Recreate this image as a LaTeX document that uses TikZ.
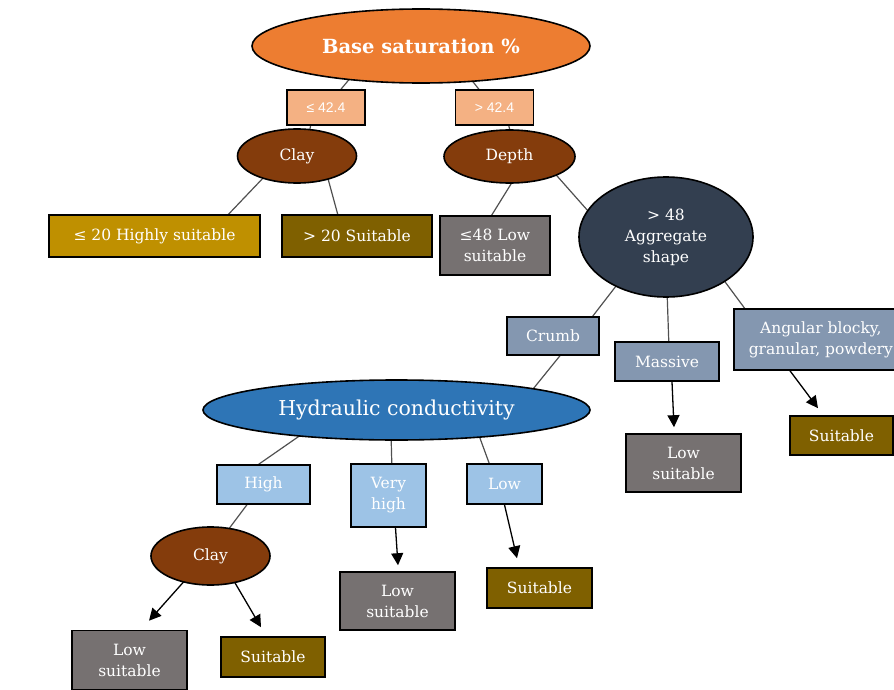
\documentclass[tikz,border=0pt]{standalone}
\usepackage{fontspec}
\setmainfont{DejaVu Serif}
\newfontfamily\labsans{Liberation Sans}
\usetikzlibrary{shapes.geometric,arrows.meta,calc,backgrounds}
\definecolor{cOrange}{HTML}{ED7D31}
\definecolor{cPeach}{HTML}{F4B183}
\definecolor{cBrown}{HTML}{843C0C}
\definecolor{cGold}{HTML}{BF9000}
\definecolor{cDGold}{HTML}{7F6000}
\definecolor{cGray}{HTML}{767171}
\definecolor{cNavy}{HTML}{333F50}
\definecolor{cSteel}{HTML}{8497B0}
\definecolor{cBlue}{HTML}{2E75B6}
\definecolor{cLBlue}{HTML}{9DC3E6}
\definecolor{cLine}{HTML}{505050}
\tikzset{
  boxst/.style={rectangle, draw=black, line width=1.6pt, text=white, align=center, inner sep=0pt,
    font=\fontsize{15.5}{21}\selectfont},
  ellst/.style={ellipse, draw=black, line width=1.6pt, text=white, align=center, inner sep=0pt,
    font=\fontsize{15.5}{21}\selectfont},
  labst/.style={rectangle, draw=black, line width=1.6pt, fill=cPeach, text=white, inner sep=0pt,
    minimum width=78pt, minimum height=35pt, font=\labsans\fontsize{14}{16}\selectfont},
  conn/.style={draw=cLine, line width=1.2pt},
  arr/.style={draw=black, line width=1.3pt, -{Triangle[width=12pt,length=12pt]}}
}
\begin{document}
\begin{tikzpicture}[x=1pt,y=-1pt]
\useasboundingbox (0,0) rectangle (894,690);
% top level
\node[ellst, fill=cOrange, minimum width=338pt, minimum height=74pt,
      font=\bfseries\fontsize{19.5}{22}\selectfont] (base) at (421,46) {Base saturation \%};
\node[labst] (le) at (326,107.5) {≤ 42.4};
\node[labst] (gt) at (494.5,107.5) {> 42.4};
\node[ellst, fill=cBrown, minimum width=119pt, minimum height=54pt] (clay1) at (297,156) {Clay};
\node[ellst, fill=cBrown, minimum width=131pt, minimum height=53pt] (depth) at (509.5,156.5) {Depth};
\node[boxst, fill=cGold, minimum width=211pt, minimum height=42pt] (hs) at (154.5,236) {≤ 20 Highly suitable};
\node[boxst, fill=cDGold, minimum width=150pt, minimum height=42pt] (s20) at (357,236) {> 20 Suitable};
\node[boxst, fill=cGray, minimum width=110pt, minimum height=59pt] (lt48) at (495,245.5) {≤48 Low\\suitable};
\node[ellst, fill=cNavy, minimum width=174pt, minimum height=120pt] (agg) at (666,237) {> 48\\Aggregate\\shape};
% aggregate shape level
\node[boxst, fill=cSteel, minimum width=92pt, minimum height=38pt] (crumb) at (553,336) {Crumb};
\node[boxst, fill=cSteel, minimum width=104pt, minimum height=39pt] (massive) at (667,361.5) {Massive};
\node[boxst, fill=cSteel, anchor=west, inner xsep=15pt, minimum height=61pt] (angular) at (733,339.5) {Angular blocky,\\granular, powdery};
\node[boxst, fill=cGray, minimum width=115pt, minimum height=58pt] (ls3) at (683.5,463) {Low\\suitable};
\node[boxst, fill=cDGold, minimum width=103pt, minimum height=39pt] (suit3) at (841.5,435.5) {Suitable};
% hydraulic conductivity level
\node[ellst, fill=cBlue, minimum width=387pt, minimum height=60pt,
      font=\fontsize{20.5}{24}\selectfont] (hydro) at (396.5,410) {Hydraulic conductivity};
\node[boxst, fill=cLBlue, minimum width=93pt, minimum height=39pt] (high) at (263.5,484.5) {High};
\node[boxst, fill=cLBlue, minimum width=75pt, minimum height=63pt] (vhigh) at (388.5,495.5) {Very\\high};
\node[boxst, fill=cLBlue, minimum width=75pt, minimum height=40pt] (low) at (504.5,484) {Low};
\node[ellst, fill=cBrown, minimum width=119pt, minimum height=58pt] (clay2) at (210.5,556) {Clay};
\node[boxst, fill=cGray, minimum width=115pt, minimum height=59pt] (ls1) at (129.5,660) {Low\\suitable};
\node[boxst, fill=cDGold, minimum width=104pt, minimum height=40pt] (suit1) at (273,657) {Suitable};
\node[boxst, fill=cGray, minimum width=115pt, minimum height=58pt] (ls2) at (397.5,601) {Low\\suitable};
\node[boxst, fill=cDGold, minimum width=105pt, minimum height=40pt] (suit2) at (539.5,588) {Suitable};
% plain connectors (behind nodes)
\begin{scope}[on background layer]
\draw[conn] ($(base)+(-69,30)$) -- ($(le)+(11,-13.5)$);
\draw[conn] ($(le)+(-14,10)$) -- ($(clay1)+(11,-16)$);
\draw[conn] ($(base)+(49,32)$) -- ($(gt)+(-9.5,-10.5)$);
\draw[conn] ($(gt)+(12.5,10.5)$) -- ($(depth)+(2.5,-17)$);
\draw[conn] ($(clay1)+(-32,20)$) -- ($(hs)+(69.5,-17)$);
\draw[conn] ($(clay1)+(30,19)$) -- ($(s20)+(-18,-17)$);
\draw[conn] ($(depth)+(6.5,19.5)$) -- ($(lt48)+(-6,-26)$);
\draw[conn] ($(depth)+(40.5,11.5)$) -- ($(agg)+(-70,-17)$);
\draw[conn] ($(agg)+(-43,40)$) -- ($(crumb)+(36,-15)$);
\draw[conn] ($(agg)+(1,53)$) -- ($(massive)+(2,-13.5)$);
\draw[conn] ($(agg)+(54,38)$) -- ($(angular.north west)+(16,6)$);
\draw[conn] ($(crumb)+(10,16)$) -- ($(hydro)+(132.5,-16)$);
\draw[conn] ($(hydro)+(-88.5,20)$) -- ($(high)+(-14.5,-13.5)$);
\draw[conn] ($(hydro)+(-5.5,22)$) -- ($(vhigh)+(3.5,-23.5)$);
\draw[conn] ($(hydro)+(80.5,20)$) -- ($(low)+(-12.5,-13)$);
\draw[conn] ($(high)+(-11.5,13.5)$) -- ($(clay2)+(14.5,-22)$);
\end{scope}
% arrows
\draw[arr] ($(massive.south)+(5,0)$) -- ($(ls3.north)+(-9.5,-6)$);
\draw[arr] ($(angular.south west)+(57,0)$) -- ($(suit3.north)+(-23.5,-7)$);
\draw[arr] ($(clay2)+(-27,26)$) -- ($(ls1.north)+(19.5,-9)$);
\draw[arr] ($(clay2)+(24,26)$) -- ($(suit1.north)+(-12,-9)$);
\draw[arr] ($(vhigh.south)+(7,0)$) -- ($(ls2.north)+(0.5,-6)$);
\draw[arr] ($(low.south)$) -- ($(suit2.north)+(-22.5,-9)$);
\end{tikzpicture}
\end{document}
